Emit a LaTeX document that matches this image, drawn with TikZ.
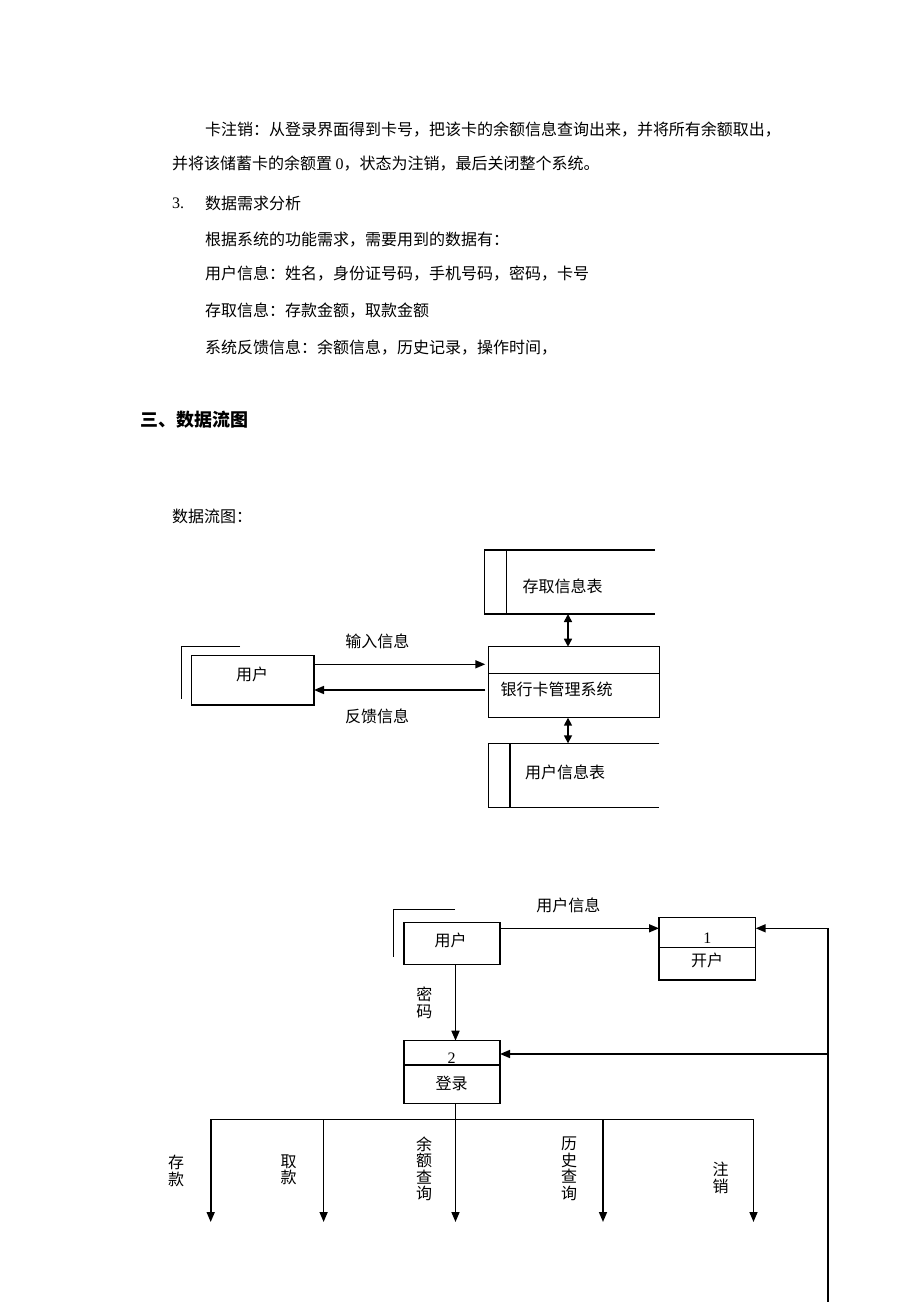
\documentclass[tikz,border=0pt]{standalone}
\usepackage{fontspec}
\setmainfont{Liberation Serif}
\newfontfamily\cjk{Noto Sans CJK SC}
\usetikzlibrary{arrows.meta}
\begin{document}
\begin{tikzpicture}[x=1pt,y=-1pt,
  txt/.style={font=\cjk\fontsize{16}{16.5}\selectfont, inner sep=0pt, outer sep=0pt, align=center},
  para/.style={font=\cjk\fontsize{16}{16}\selectfont, inner sep=0pt, outer sep=0pt, anchor=west},
  head/.style={font=\cjk\bfseries\fontsize{18}{18}\selectfont, inner sep=0pt, anchor=west},
  num/.style={font=\rmfamily\fontsize{16}{16}\selectfont, inner sep=0pt, outer sep=0pt},
  frame/.style={draw, line width=1.3pt, inner sep=0pt, outer sep=0pt},
  blank/.style={inner sep=0pt, outer sep=0pt},
  ln/.style={line width=1.3pt},
  flow/.style={line width=1.6pt},
  arr/.style={flow, -{Triangle[length=10pt,width=8pt]}},
  darr/.style={flow, {Triangle[length=8pt,width=8pt]}-{Triangle[length=8pt,width=8pt]}},
]
\useasboundingbox (0,0) rectangle (920,1302);
\fill[white] (0,0) rectangle (920,1302);

% ---------- text ----------
\node[para] (t1) at (205,130) {卡注销：从登录界面得到卡号，把该卡的余额信息查询出来，并将所有余额取出，};
\node[para] (t2) at (172,164) {并将该储蓄卡的余额置 {\rmfamily 0}，状态为注销，最后关闭整个系统。};
\node[num, anchor=west] (t3n) at (172,203) {3.};
\node[para] (t3) at (205,203) {数据需求分析};
\node[para] (t4) at (205,240) {根据系统的功能需求，需要用到的数据有：};
\node[para] (t5) at (205,274) {用户信息：姓名，身份证号码，手机号码，密码，卡号};
\node[para] (t6) at (205,311) {存取信息：存款金额，取款金额};
\node[para] (t7) at (205,348) {系统反馈信息：余额信息，历史记录，操作时间，};
\node[head] (h) at (140,420) {三、数据流图};
\node[para] (t8) at (172,516) {数据流图：};

% ---------- diagram 1 ----------
\node[frame, minimum width=122.3, minimum height=49.3] (u1) at (252.85,680.35) {};
\node[txt] (u1t) at (252,674) {用户};
\draw[ln] (240,646.7) -- (181.7,646.7) -- (181.7,699.3);

\node[frame, minimum width=171, minimum height=71] (sys) at (573.8,682.2) {};
\coordinate (sd) at (0,673.3);
\draw[ln] (sys.west |- sd) -- (sys.east |- sd);
\node[txt] (syst) at (556.7,689) {银行卡管理系统};

\node[blank, minimum width=170.7, minimum height=64] (st1) at (569.65,582) {};
\draw[ln] (st1.north east) -- (st1.north west) -- (st1.south west) -- (st1.south east);
\coordinate (s1i) at (506.7,0);
\draw[ln] (st1.north -| s1i) -- (st1.south -| s1i);
\node[txt] (st1t) at (562.7,586.7) {存取信息表};

\node[blank, minimum width=171, minimum height=64.4] (st2) at (573.8,775.5) {};
\draw[ln] (st2.north east) -- (st2.north west) -- (st2.south west) -- (st2.south east);
\coordinate (s2i) at (510,0);
\draw[ln] (st2.north -| s2i) -- (st2.south -| s2i);
\node[txt] (st2t) at (565,772.3) {用户信息表};

\coordinate (dx) at (568,0);
\draw[darr] (st1.south -| dx) -- (sys.north -| dx);
\draw[darr] (sys.south -| dx) -- (st2.north -| dx);

\coordinate (a1) at (0,664.3);
\coordinate (a2) at (0,690);
\draw[arr, shorten >=3pt] (u1.east |- a1) -- (sys.west |- a1);
\draw[arr, shorten <=3pt] (sys.west |- a2) -- (u1.east |- a2);
\node[txt] (l1) at (377.3,641.7) {输入信息};
\node[txt] (l2) at (377,716.7) {反馈信息};

% ---------- diagram 2 ----------
\node[frame, minimum width=96, minimum height=42] (u2) at (452,943.3) {};
\node[txt] (u2t) at (450.7,940.7) {用户};
\draw[ln] (455,909.3) -- (393.3,909.3) -- (393.3,957.3);

\node[frame, minimum width=96.7, minimum height=62.3] (p1) at (707.35,948.85) {};
\coordinate (p1d) at (0,947.3);
\draw[ln] (p1.west |- p1d) -- (p1.east |- p1d);
\node[num] (p1n) at (707.3,938) {1};
\node[txt] (p1t) at (707,960.7) {开户};

\node[frame, minimum width=96, minimum height=62.6] (p2) at (452,1072) {};
\coordinate (p2d) at (0,1065);
\draw[ln] (p2.west |- p2d) -- (p2.east |- p2d);
\node[num] (p2n) at (451.7,1058.5) {2};
\node[txt] (p2t) at (451.7,1083.3) {登录};

\coordinate (b1) at (0,928.3);
\draw[arr] (u2.east |- b1) -- (p1.west |- b1);
\node[txt] (l3) at (568.3,905) {用户信息};

\coordinate (rt) at (827.7,928.3);
\coordinate (rm) at (827.7,1054);
\coordinate (rb) at (827.7,1302);
\draw[flow] (rb) -- (rt);
\draw[arr] (rt) -- (p1.east |- rt);
\draw[arr] (rm) -- (p2.east |- rm);

\coordinate (sx) at (455.5,0);
\draw[arr] (u2.south -| sx) -- (p2.north -| sx);
\node[txt] (l4) at (424.3,1003) {密\\码};

\coordinate (hy) at (0,1119.3);
\coordinate (e1) at (210.7,1222);
\coordinate (e2) at (323.6,1222);
\coordinate (e3) at (455.5,1222);
\coordinate (e4) at (603,1222);
\coordinate (e5) at (753.5,1222);
\draw[flow] (e1 |- hy) -- (e5 |- hy);
\draw[arr] (p2.south -| e3) -- (e3);
\foreach \e in {e1,e2,e4,e5} \draw[arr] (\e |- hy) -- (\e);

\node[txt] (l5) at (176,1171) {存\\款};
\node[txt] (l6) at (288.6,1170) {取\\款};
\node[txt] (l7) at (424,1169) {余\\额\\查\\询};
\node[txt] (l8) at (569,1169) {历\\史\\查\\询};
\node[txt] (l9) at (720.6,1178) {注\\销};
\end{tikzpicture}
\end{document}
